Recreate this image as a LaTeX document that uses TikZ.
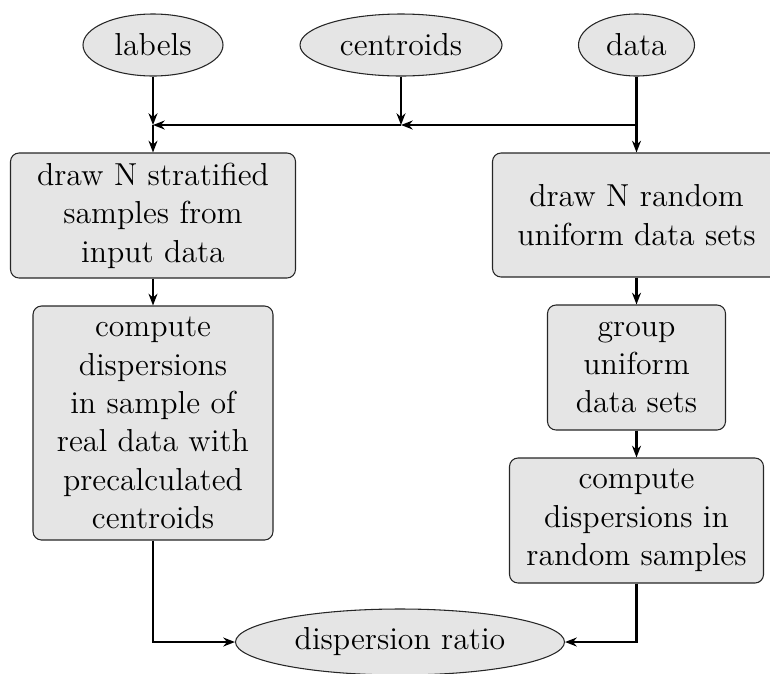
\documentclass[tikz,border=0pt]{standalone}
\usetikzlibrary{shapes.geometric,arrows.meta}
\begin{document}
\begin{tikzpicture}[
  x=0.4686pt, y=-0.4686pt,
  every node/.style={font=\fontsize{14.9}{18}\selectfont, align=center, inner sep=0pt},
  procbox/.style={draw=black!85, line width=0.5pt, fill=gray!20, rounded corners=4pt},
  termnode/.style={draw=black!85, line width=0.5pt, fill=gray!20, ellipse},
  flow/.style={line width=0.95pt, -{Stealth[length=5.5pt,width=4.2pt]}},
  plain/.style={line width=0.95pt}
]
\useasboundingbox (0,0) rectangle (770,673);

% inputs
\node[termnode, minimum width={140*0.4686pt}, minimum height={62*0.4686pt}] (labels) at (153,45) {labels};
\node[termnode, minimum width={202*0.4686pt}, minimum height={62*0.4686pt}] (centroids) at (401,45) {centroids};
\node[termnode, minimum width={116*0.4686pt}, minimum height={62*0.4686pt}] (data) at (636.5,45) {data};

% junctions on the collecting line
\coordinate (j1) at (153,125);
\coordinate (j2) at (401,125);
\coordinate (j3) at (636.5,125);

% left branch
\node[procbox, minimum width={285*0.4686pt}, minimum height={125*0.4686pt}] (strat) at (153,215.5)
  {draw N stratified\\samples from\\input data};
\node[procbox, minimum width={240*0.4686pt}, minimum height={234*0.4686pt}] (realdisp) at (153,423)
  {compute\\dispersions\\in sample of\\real data with\\precalculated\\centroids};

% right branch
\node[procbox, minimum width={288*0.4686pt}, minimum height={124*0.4686pt}] (unif) at (636.5,215)
  {draw N random\\uniform data sets};
\node[procbox, minimum width={178*0.4686pt}, minimum height={125*0.4686pt}] (group) at (636.5,367.5)
  {group\\uniform\\data sets};
\node[procbox, minimum width={254*0.4686pt}, minimum height={125*0.4686pt}] (randdisp) at (636.5,520.5)
  {compute\\dispersions in\\random samples};

% result
\node[termnode, minimum width={329*0.4686pt}, minimum height={66*0.4686pt}] (ratio) at (400,642) {dispersion ratio};

% connectors
\draw[flow] (labels.south) -- (j1);
\draw[flow] (centroids.south) -- (j2);
\draw[plain] (data.south) -- (j3);
\draw[flow] (j3) -- (j2);
\draw[flow] (j2) -- (j1);
\draw[flow] (j1) -- (strat.north);
\draw[flow] (j3) -- (unif.north);
\draw[flow] (strat.south) -- (realdisp.north);
\draw[flow] (unif.south) -- (group.north);
\draw[flow] (group.south) -- (randdisp.north);
\draw[flow] (realdisp.south) |- (ratio.west);
\draw[flow] (randdisp.south) |- (ratio.east);
\end{tikzpicture}
\end{document}
